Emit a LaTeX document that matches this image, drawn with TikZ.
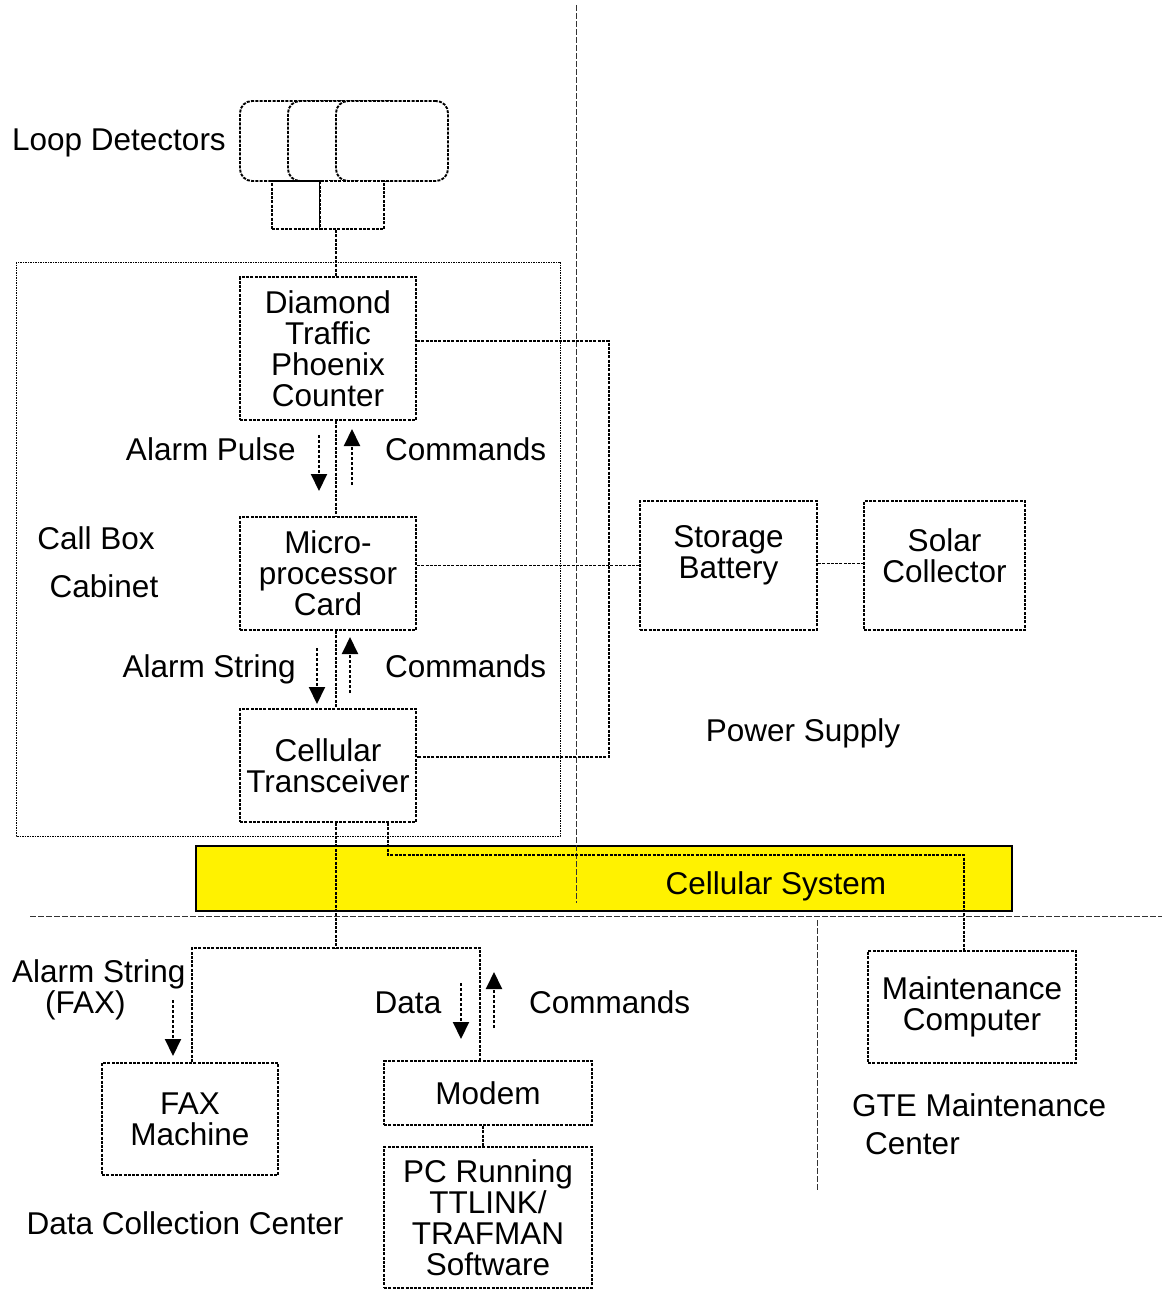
\documentclass[tikz,border=0pt]{standalone}
\usepackage{fontspec}
\setmainfont{Liberation Sans}
\usetikzlibrary{arrows.meta}

\begin{document}
\begin{tikzpicture}[x=1pt,y=-1pt,
    unit/.style={draw,line width=1.9pt,dash pattern=on 3pt off 1.3pt,align=center,inner sep=0pt},
    loopbox/.style={unit,rounded corners=12pt,fill=white,minimum width=112pt,minimum height=80pt},
    link/.style={draw,line width=1.9pt,dash pattern=on 3pt off 1.3pt},
    flow/.style={line width=2pt,dash pattern=on 3pt off 2pt,-{Triangle[width=16pt,length=17pt]}},
    part/.style={draw=black!80,line width=0.8pt,dash pattern=on 6pt off 2pt},
    lbl/.style={inner sep=0pt,anchor=base},
    font=\fontsize{31.5}{31}\selectfont
  ]
    \useasboundingbox (0,0) rectangle (1162,1290);

    \draw[line width=0.7pt,dash pattern=on 1.5pt off 1pt] (16,262) rectangle (560,836);
    \node[lbl] at (96,549) {Call Box};
    \node[lbl] at (104,597) {Cabinet};

    \node[loopbox] (loopA) at (296,141) {};
    \node[loopbox] (loopB) at (344,141) {};
    \node[loopbox] (loopC) at (392,141) {};
    \node[unit,minimum width=48pt,minimum height=48pt] (sensA) at (296,205) {};
    \node[unit,minimum width=64pt,minimum height=48pt,fill=white] (sensB) at (352,205) {};
    \node[lbl,anchor=base east] at (226,150) {Loop Detectors};

    \node[unit,minimum width=176pt,minimum height=143pt] (diam) at (328,348.5) {Diamond\\Traffic\\Phoenix\\Counter};
    \node[unit,minimum width=176pt,minimum height=113pt] (micro) at (328,573.5) {Micro-\\processor\\Card};
    \node[unit,minimum width=176pt,minimum height=113pt] (cell) at (328,765.5) {Cellular\\Transceiver};

    \node[unit,minimum width=177pt,minimum height=129pt,
      label={[yshift=10pt,align=center,inner sep=0pt]center:Storage\\Battery}] (batt) at (728.5,565.5) {};
    \node[unit,minimum width=161pt,minimum height=129pt,
      label={[yshift=10pt,align=center,inner sep=0pt]center:Solar\\Collector}] (solar) at (944.5,565.5) {};
    \node[lbl] at (803,741) {Power Supply};

    \node[draw,line width=2pt,fill=yellow,minimum width=816pt,minimum height=65pt] (net) at (604,878.5) {};
    \node[lbl] at (776,894) {Cellular System};

    \draw[part] (576,5) -- (576,903);
    \draw[part] (30,916) -- (1162,916);
    \draw[part] (817,920) -- (817,1190);

    \node[unit,minimum width=176pt,minimum height=112pt] (fax) at (190,1119) {FAX\\Machine};
    \node[unit,minimum width=208pt,minimum height=64pt] (modem) at (488,1093) {Modem};
    \node[unit,minimum width=208pt,minimum height=141pt] (pc) at (488,1217.5) {PC Running\\TTLINK/\\TRAFMAN\\Software};
    \node[unit,minimum width=208pt,minimum height=112pt] (maint) at (972,1007) {Maintenance\\Computer};

    \node[lbl] at (185,1234) {Data Collection Center};
    \node[lbl,anchor=base west,align=left] at (852,1154) {GTE Maintenance\\[7pt]\hspace*{13pt}Center};
    \node[lbl,anchor=base west,align=left] at (12,1013) {Alarm String\\\hspace*{33pt}(FAX)};

    \coordinate (split) at (336,948);
    \coordinate (air) at (964,855);

    \draw[link] ([xshift=-16pt]sensB.south) -- ([xshift=-16pt]sensB.south |- diam.north);
    \draw[link] ([xshift=8pt]diam.south) -- ([xshift=8pt]micro.north);
    \draw[link] ([xshift=8pt]micro.south) -- ([xshift=8pt]cell.north);
    \draw[link] ([yshift=7.5pt]diam.east) -| ([xshift=192pt,yshift=8.5pt]cell.east) -- ([yshift=8.5pt]cell.east);
    \draw[link] (micro.east |- batt.west) -- (batt.west);
    \draw[link] ([yshift=2pt]batt.east) -- ([yshift=2pt]solar.west);
    \draw[link] ([xshift=8pt]cell.south) -- (split);
    \draw[link] ([xshift=2pt]fax.north) |- (split) -| ([xshift=-8pt]modem.north);
    \draw[link] ([xshift=60pt]cell.south) |- (air) -- ([xshift=-8pt]maint.north);
    \draw[link] ([xshift=-5pt]modem.south) -- ([xshift=-5pt]pc.north);

    \draw[flow] (319,435) -- (319,491);
    \draw[flow] (352,485) -- (352,429);
    \node[lbl,anchor=base east] at (296,460) {Alarm Pulse};
    \node[lbl,anchor=base west] at (385,460) {Commands};

    \draw[flow] (317,648) -- (317,704);
    \draw[flow] (350,693) -- (350,637);
    \node[lbl,anchor=base east] at (296,677) {Alarm String};
    \node[lbl,anchor=base west] at (385,677) {Commands};

    \draw[flow] (173,1000) -- (173,1056);
    \draw[flow] (461,983) -- (461,1039);
    \draw[flow] (494,1028) -- (494,972);
    \node[lbl] at (408,1013) {Data};
    \node[lbl,anchor=base west] at (529,1013) {Commands};
  \end{tikzpicture}
\end{document}
